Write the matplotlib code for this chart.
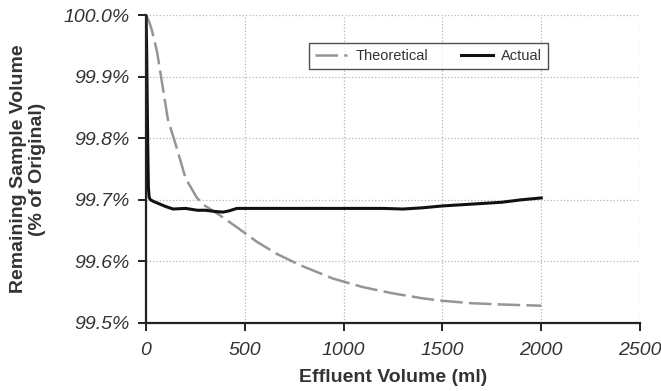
import matplotlib
matplotlib.use("Agg")
import matplotlib.pyplot as plt
from matplotlib.ticker import FuncFormatter

# Data
theo_x = [0, 15, 30, 56, 81, 111, 150, 200, 258, 300, 364, 466, 560, 663, 779, 947,
          1100, 1250, 1400, 1500, 1650, 1800, 2000]
theo_y = [100.0, 99.99, 99.975, 99.94, 99.89, 99.83, 99.79, 99.735, 99.703, 99.690,
          99.677, 99.654, 99.632, 99.612, 99.594, 99.572, 99.558, 99.548, 99.540,
          99.536, 99.532, 99.530, 99.528]

act_x = [0, 3, 6, 9, 12, 16, 22, 40, 70, 100, 137, 200, 260, 300, 350, 390, 420, 460,
         600, 800, 1000, 1200, 1300, 1400, 1500, 1600, 1700, 1800, 1900, 2000]
act_y = [100.0, 99.95, 99.86, 99.78, 99.72, 99.704, 99.700, 99.697, 99.693, 99.689,
         99.685, 99.686, 99.683, 99.683, 99.681, 99.680, 99.682, 99.686,
         99.686, 99.686, 99.686, 99.686, 99.685, 99.687, 99.690, 99.692, 99.694,
         99.696, 99.700, 99.703]

x_ticks = [0, 500, 1000, 1500, 2000, 2500]
y_ticks = [99.5, 99.6, 99.7, 99.8, 99.9, 100.0]

plt.rcParams['font.family'] = ['Liberation Sans', 'DejaVu Sans']

fig = plt.figure(figsize=(6.61, 3.91), dpi=100)
ax = fig.add_axes([0.2209, 0.174, 0.7474, 0.7876])

ax.plot(theo_x, theo_y, color='#959595', lw=1.8, dashes=(9, 2.5), label='Theoretical')
ax.plot(act_x, act_y, color='#111111', lw=2.2, label='Actual')

ax.set_xlim(0, 2500)
ax.set_ylim(99.5, 100.0)
ax.set_xticks(x_ticks)
ax.set_yticks(y_ticks)
ax.yaxis.set_major_formatter(FuncFormatter(lambda v, p: f"{v:.1f}%"))

ax.grid(True, color='#b5b5b5', linestyle=':', linewidth=0.9)
ax.set_axisbelow(True)
for s in ['top', 'right']:
    ax.spines[s].set_visible(False)
for s in ['left', 'bottom']:
    ax.spines[s].set_linewidth(1.6)
    ax.spines[s].set_color('#222222')

ax.tick_params(direction='out', length=6, width=1.4, colors='#222222',
               labelsize=14)
ax.tick_params(axis='y', pad=6)
ax.tick_params(axis='x', pad=8)
for lab in ax.get_xticklabels() + ax.get_yticklabels():
    lab.set_fontstyle('italic')
    lab.set_color('#333333')

ax.set_xlabel('Effluent Volume (ml)', fontsize=14, fontweight='bold', color='#333333', labelpad=7)
ax.set_ylabel('Remaining Sample Volume\n(% of Original)', fontsize=14, fontweight='bold',
              color='#333333', labelpad=12, linespacing=1.2)

leg = ax.legend(loc='upper left', bbox_to_anchor=(0.33, 0.909), ncol=2, fontsize=10.5,
                frameon=True, fancybox=False, edgecolor='#222222', handlelength=2.2,
                columnspacing=2.2, borderpad=0.4, handletextpad=0.6, borderaxespad=0)
leg.get_frame().set_linewidth(1.0)
for t in leg.get_texts():
    t.set_color('#333333')

fig.savefig('out.png', dpi=100)
